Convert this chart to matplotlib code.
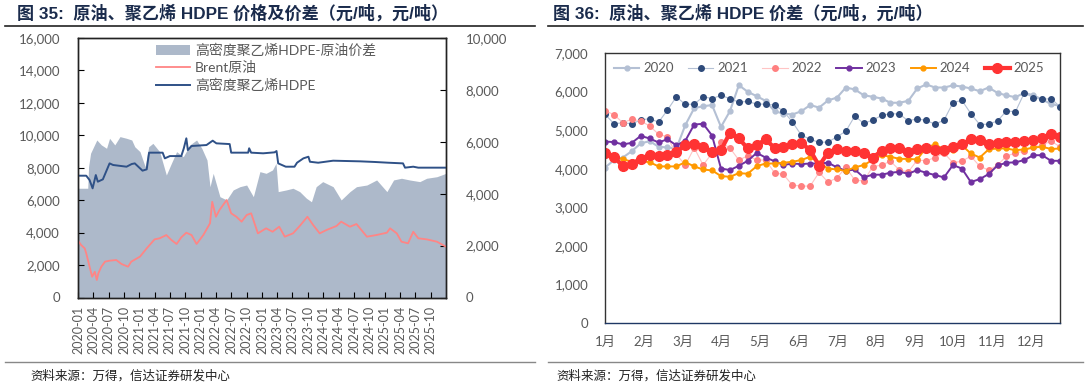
import numpy as np
import pandas as pd
import matplotlib
matplotlib.use("Agg")
import matplotlib.pyplot as plt
import matplotlib.dates as mdates
from matplotlib.patches import Patch
from matplotlib.lines import Line2D

plt.rcParams['font.family'] = ['Lato', 'Noto Sans CJK SC', 'DejaVu Sans']
plt.rcParams['axes.unicode_minus'] = False

GRAY = '#595959'

# ---- left chart: HDPE / Brent / spread (yuan per tonne) ----
hdpe_dates = ['2020-01-02', '2020-02-19', '2020-03-10', '2020-03-28', '2020-04-16', '2020-04-28',
              '2020-05-28', '2020-07-07', '2020-07-28', '2020-10-16', '2020-11-16', '2020-12-04',
              '2020-12-25', '2021-01-19', '2021-02-13', '2021-02-27', '2021-05-19', '2021-06-01',
              '2021-07-01', '2021-09-07', '2021-09-22', '2021-10-07', '2021-10-16', '2021-11-07',
              '2022-02-04', '2022-03-13', '2022-04-04', '2022-06-22', '2022-07-01', '2022-10-10',
              '2022-10-16', '2022-10-28', '2023-01-07', '2023-03-16', '2023-03-28', '2023-04-07',
              '2023-05-22', '2023-07-13', '2023-07-28', '2023-09-04', '2023-10-04', '2023-10-13',
              '2023-12-01', '2024-02-28', '2024-08-07', '2024-11-04', '2025-01-22', '2025-04-19',
              '2025-05-01', '2025-06-19', '2025-07-19', '2025-12-31']
hdpe = [7510, 7510, 7240, 6730, 7550, 7140,
        7285, 8270, 8170, 8065, 8230, 8270,
        8065, 7820, 7900, 8930, 8930, 8580,
        8720, 8720, 9200, 9815, 9090, 9340,
        9400, 9670, 9505, 9460, 8930, 8930,
        9200, 8930, 8890, 8950, 9030, 8270,
        8065, 8065, 8310, 8580, 8680, 8370,
        8310, 8435, 8395, 8355, 8310, 8270,
        8005, 8065, 8005, 8005]

brent_dates = ['2020-01-02', '2020-01-19', '2020-02-10', '2020-02-19', '2020-03-10', '2020-03-25',
               '2020-04-10', '2020-04-22', '2020-05-01', '2020-05-19', '2020-06-10', '2020-07-07',
               '2020-08-16', '2020-09-16', '2020-10-25', '2020-11-13', '2021-01-04', '2021-02-13',
               '2021-04-01', '2021-05-01', '2021-06-10', '2021-07-10', '2021-08-10', '2021-09-07',
               '2021-10-07', '2021-11-07', '2021-12-07', '2022-01-16', '2022-02-25', '2022-03-10',
               '2022-04-01', '2022-04-22', '2022-06-04', '2022-07-01', '2022-08-01', '2022-09-01',
               '2022-10-01', '2022-10-28', '2022-12-07', '2023-01-25', '2023-03-04', '2023-04-13',
               '2023-05-16', '2023-07-04', '2023-08-13', '2023-09-28', '2023-11-01', '2023-12-10',
               '2024-01-19', '2024-03-19', '2024-04-16', '2024-06-07', '2024-07-16', '2024-09-16',
               '2024-11-13', '2025-01-13', '2025-02-01', '2025-03-13', '2025-04-10', '2025-05-19',
               '2025-06-19', '2025-07-19', '2025-09-07', '2025-11-07', '2025-12-31']
brent = [3500, 3240, 3030, 2725, 1900, 1280,
         1590, 1080, 1490, 1900, 2210, 2270,
         2310, 2065, 1900, 2210, 2520, 3030,
         3585, 3650, 3850, 3545, 3300, 3710,
         3995, 3850, 3300, 3850, 4575, 5900,
         4980, 5390, 6010, 5190, 4980, 4675,
         5085, 5190, 3955, 4265, 4055, 4365,
         3750, 3955, 4410, 4980, 4470, 3955,
         4160, 4410, 4675, 4365, 4530, 3750,
         3855, 3995, 4265, 3955, 3440, 3340,
         4055, 3650, 3585, 3440, 3130]

spread_dates = ['2020-01-02', '2020-02-28', '2020-03-04', '2020-03-16', '2020-04-22', '2020-05-19',
                '2020-06-19', '2020-07-07', '2020-08-07', '2020-09-07', '2020-10-16', '2020-11-16',
                '2020-12-04', '2021-01-04', '2021-02-04', '2021-02-25', '2021-03-22', '2021-05-01',
                '2021-06-10', '2021-07-10', '2021-08-10', '2021-09-19', '2021-10-28', '2021-12-07',
                '2022-01-07', '2022-02-07', '2022-02-25', '2022-03-16', '2022-04-25', '2022-06-04',
                '2022-07-13', '2022-08-22', '2022-10-01', '2022-11-10', '2022-12-19', '2023-01-25',
                '2023-03-04', '2023-03-25', '2023-04-07', '2023-05-25', '2023-07-04', '2023-08-13',
                '2023-09-22', '2023-10-22', '2023-11-19', '2023-12-28', '2024-02-28', '2024-04-16',
                '2024-06-07', '2024-07-16', '2024-09-16', '2024-11-13', '2025-01-13', '2025-02-22',
                '2025-04-10', '2025-05-28', '2025-07-28', '2025-09-07', '2025-11-07', '2025-12-31']
spread = [4210, 4210, 5040, 5560, 6070, 5880,
          5750, 6135, 5880, 6200, 6135, 6070,
          5810, 5620, 5040, 5810, 5940, 5620,
          4720, 5170, 5620, 5425, 5880, 6070,
          5750, 5300, 4270, 4785, 3885, 3760,
          4145, 4270, 4335, 3885, 4850, 4785,
          4915, 5170, 4080, 4145, 4210, 4080,
          3825, 3690, 4270, 4465, 4270, 3760,
          4080, 4270, 4335, 4530, 4080, 4530,
          4595, 4530, 4465, 4595, 4655, 4785]

# ---- right chart: weekly spread by year ----
month_labels = ['1月', '2月', '3月', '4月', '5月', '6月', '7月', '8月', '9月', '10月', '11月', '12月']
y2020 = [4030, 4220, 4290, 4455, 4655, 4715, 4570, 4550, 4525, 5130, 5570, 5620, 5650,
         5085, 5490, 6165, 5995, 5880, 5760, 5490, 5430, 5405, 5490, 5650, 5585, 5770,
         5845, 6105, 6055, 5905, 5865, 5820, 5710, 5710, 5760, 6080, 6185, 6105, 6105,
         6160, 6130, 6080, 6010, 6105, 5965, 5900, 5855, 5965, 5905, 5795, 5675, 5630]
y2021 = [5415, 5165, 5190, 5165, 5260, 5300, 5205, 5520, 5865, 5665, 5675, 5865, 5820,
         5900, 5820, 5725, 5745, 5675, 5675, 5650, 5490, 5215, 4870, 4765, 4680, 4695,
         4825, 4975, 5365, 5175, 5260, 5380, 5430, 5415, 5240, 5295, 5250, 5155, 5260,
         5710, 5775, 5430, 5145, 5155, 5240, 5500, 5475, 5965, 5845, 5795, 5820, 5605]
y2022 = [5500, 5405, 5190, 5285, 5235, 5110, 4895, 4825, 4370, 4095, 4540, 4095, 4405,
         4680, 4540, 4225, 4335, 4225, 4225, 3895, 3850, 3575, 3550, 3550, 3905, 3650,
         3765, 4035, 3705, 3680, 4050, 4095, 4195, 3965, 3920, 4225, 4205, 4290, 4410,
         4155, 4195, 4325, 4065, 3965, 4095, 4325, 4410, 4455, 4570, 4610, 4715, 4570]
y2023 = [4705, 4690, 4630, 4670, 4850, 4785, 4680, 4765, 4605, 4725, 5145, 5165, 4860,
         4005, 3965, 4075, 4205, 4410, 4290, 4195, 4095, 4135, 4120, 4135, 4135, 4155,
         4035, 3945, 3980, 3775, 3845, 3845, 3895, 3920, 3870, 3965, 3895, 3835, 3775,
         4095, 4005, 3655, 3730, 3860, 4085, 4155, 4165, 4225, 4350, 4350, 4205, 4205]
y2024 = [4350, 4310, 4250, 4180, 4195, 4170, 4060, 4060, 4060, 4170, 4060, 3980, 3955,
         3810, 3790, 3885, 3870, 4065, 4135, 4135, 4155, 4180, 4225, 4310, 4155, 4005,
         3980, 3945, 4035, 4095, 4225, 4350, 4310, 4255, 4255, 4240, 4550, 4630, 4500,
         4480, 4610, 4395, 4290, 4500, 4525, 4525, 4480, 4500, 4550, 4570, 4510, 4525]
y2025 = [4410, 4310, 4065, 4135, 4250, 4350, 4325, 4345, 4440, 4605, 4635, 4570, 4440,
         4480, 4930, 4785, 4525, 4610, 4760, 4540, 4570, 4630, 4670, 4480, 4075, 4420,
         4500, 4455, 4455, 4410, 4285, 4465, 4540, 4525, 4440, 4500, 4540, 4480, 4480,
         4570, 4635, 4760, 4740, 4635, 4670, 4690, 4690, 4715, 4740, 4785, 4895, 4810]

years = ['2020', '2021', '2022', '2023', '2024', '2025']
year_data = [y2020, y2021, y2022, y2023, y2024, y2025]
# (line colour, line width, marker colour, marker size)
year_style = [('#b4c0d4', 1.5, '#b4c0d4', 3.5),
              ('#b4c0d4', 0.8, '#2e4a7a', 4.0),
              ('#ffc4c4', 0.8, '#ff8080', 4.0),
              ('#7030a0', 1.4, '#7030a0', 3.5),
              ('#ff9900', 1.4, '#ff9900', 3.5),
              ('#ff3333', 3.0, '#ff3333', 7.0)]


def main():
    fig = plt.figure(figsize=(10.88, 3.88), dpi=100)
    W, H = 1088.0, 388.0

    def fx(px):
        return px / W

    def fy(py):
        return 1 - py / H

    # headers, rules and source notes
    title_kw = dict(fontsize=12.3, fontweight='bold', color='#1a2b4c', va='center',
                    family=['Liberation Sans', 'Noto Sans CJK SC'])
    fig.text(fx(17), fy(13), '图 35:  原油、聚乙烯 HDPE 价格及价差（元/吨，元/吨）', **title_kw)
    fig.text(fx(553), fy(13), '图 36:  原油、聚乙烯 HDPE 价差（元/吨，元/吨）', **title_kw)
    for x0, x1 in [(5, 535), (548, 1083)]:
        fig.add_artist(Line2D([fx(x0), fx(x1)], [fy(26), fy(26)], color='#222222', lw=1.2))
        fig.add_artist(Line2D([fx(x0), fx(x1)], [fy(362), fy(362)], color='#888888', lw=1.0))
    src_kw = dict(fontsize=9, color='#222222', va='center', style='italic',
                  family=['Noto Sans CJK SC'])
    fig.text(fx(30), fy(376), '资料来源：万得，信达证券研发中心', **src_kw)
    fig.text(fx(556), fy(376), '资料来源：万得，信达证券研发中心', **src_kw)

    # ---------- left chart ----------
    ax = fig.add_axes([fx(78), fy(297.5), fx(446) - fx(78), fy(38) - fy(297.5)])
    ax2 = ax.twinx()
    sd = pd.to_datetime(spread_dates)
    ax2.fill_between(sd, 0, spread, color='#adb9ca', lw=0)
    ax2.set_ylim(0, 10000)
    ax2.set_yticks(np.arange(0, 10001, 2000))
    ax2.yaxis.set_major_formatter(matplotlib.ticker.StrMethodFormatter('{x:,.0f}'))

    ax.set_zorder(ax2.get_zorder() + 1)
    ax.patch.set_visible(False)
    ax.plot(pd.to_datetime(brent_dates), brent, color='#ff8585', lw=1.3)
    ax.plot(pd.to_datetime(hdpe_dates), hdpe, color='#2f5187', lw=1.4)
    ax.set_ylim(0, 16000)
    ax.set_yticks(np.arange(0, 16001, 2000))
    ax.yaxis.set_major_formatter(matplotlib.ticker.StrMethodFormatter('{x:,.0f}'))
    ax.set_xlim(pd.Timestamp('2020-01-01'), pd.Timestamp('2025-12-31'))
    ax.xaxis.set_major_locator(mdates.MonthLocator(bymonth=[1, 4, 7, 10]))
    ax.xaxis.set_major_formatter(mdates.DateFormatter('%Y-%m'))
    for lab in ax.get_xticklabels():
        lab.set_rotation(90)

    ax.tick_params(axis='y', direction='in', length=4, pad=13, labelsize=9.5, labelcolor=GRAY)
    ax.tick_params(axis='x', direction='in', length=4, pad=6, labelsize=9, labelcolor=GRAY)
    ax2.tick_params(axis='y', direction='in', length=4, pad=14, labelsize=9.5, labelcolor=GRAY)
    for a in (ax, ax2):
        for s in a.spines.values():
            s.set_color('#222222')
            s.set_linewidth(1.0)

    handles = [Patch(facecolor='#adb9ca', edgecolor='none'),
               Line2D([], [], color='#ff8585', lw=1.3),
               Line2D([], [], color='#2f5187', lw=1.4)]
    labels = ['高密度聚乙烯HDPE-原油价差', 'Brent原油', '高密度聚乙烯HDPE']
    ax.legend(handles, labels, loc='upper left', bbox_to_anchor=(0.19, 1.01), frameon=False,
              fontsize=10, labelcolor=GRAY, handlelength=2.4, handletextpad=0.4,
              labelspacing=0.3, borderaxespad=0.2)

    # ---------- right chart ----------
    bx = fig.add_axes([fx(605), fy(323), fx(1060) - fx(605), fy(53) - fy(323)])
    weeks = np.arange(len(y2025))
    for yr, vals, (lc, lw, mc, ms) in zip(years, year_data, year_style):
        bx.plot(weeks[:len(vals)], vals, color=lc, lw=lw, marker='o', ms=ms,
                markerfacecolor=mc, markeredgecolor=mc, label=yr)
    bx.set_xlim(0, len(weeks) - 1)
    bx.set_ylim(0, 7000)
    bx.set_yticks(np.arange(0, 7001, 1000))
    bx.yaxis.set_major_formatter(matplotlib.ticker.StrMethodFormatter('{x:,.0f}'))
    bx.set_xticks(np.arange(12) * 4.34)
    bx.set_xticklabels(month_labels)
    bx.tick_params(axis='both', length=0, labelsize=9.5, labelcolor=GRAY)
    bx.tick_params(axis='y', pad=12)
    bx.tick_params(axis='x', pad=9)
    for s in bx.spines.values():
        s.set_color('#333333')
        s.set_linewidth(1.0)
    bx.spines['bottom'].set_color('#1f3864')
    bx.legend(loc='upper left', ncol=6, frameon=False, fontsize=9.5, labelcolor=GRAY,
              handlelength=1.9, handletextpad=0.3, columnspacing=1.1,
              bbox_to_anchor=(0.0, 1.0), borderaxespad=0.3)

    fig.savefig('out.png', dpi=100)


if __name__ == "__main__":
    main()
